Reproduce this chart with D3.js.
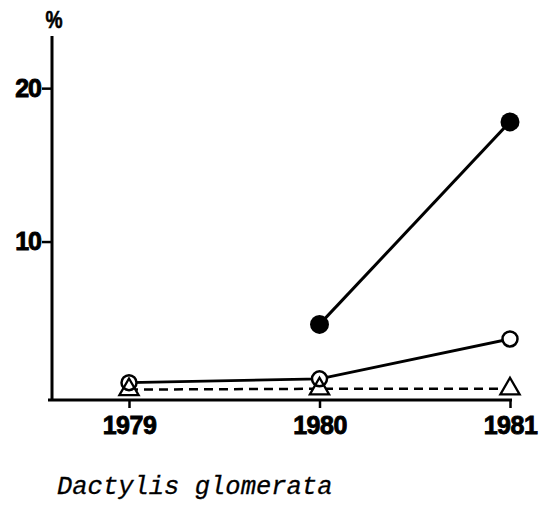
<!DOCTYPE html>
<html><head><meta charset="utf-8">
<script src="https://cdn.jsdelivr.net/npm/d3@7"></script>
<style>body{margin:0;background:#fff}svg{display:block}</style>
</head><body>
<script>
const years = [1979, 1980, 1981];
const filledYears = [1980, 1981];
const filledValues = [4.6, 17.8];
const openYears = [1979, 1980, 1981];
const openValues = [0.8, 1.05, 3.65];
const triYears = [1979, 1980, 1981];
const triValues = [0.35, 0.4, 0.4];
const yTicks = [10, 20];
const yUnit = "%";
const caption = "Dactylis glomerata";

const W = 539, H = 507;
const svg = d3.select("body").append("svg").attr("width", W).attr("height", H);

const x = d3.scalePoint().domain(years).range([129, 510]);
const y = d3.scaleLinear().domain([-0.33, 23.4]).range([400, 36]);

const FONT = "Liberation Sans, Arial, sans-serif";

// axes
const yAxis = d3.axisLeft(y).tickValues(yTicks).tickSize(10).tickSizeOuter(0).tickPadding(1).tickFormat(d3.format("d"));
const gy = svg.append("g").attr("transform", "translate(52,0)").call(yAxis);
gy.select(".domain").attr("stroke", "#000").attr("stroke-width", 3)
  .attr("d", `M0,${y.range()[1]}V${y.range()[0]}`);
gy.selectAll(".tick line").attr("stroke", "#000").attr("stroke-width", 2.5);
gy.selectAll(".tick text").attr("font-family", FONT)
  .attr("font-weight", "bold").attr("font-size", 25).attr("fill", "#000")
  .attr("stroke", "#000").attr("stroke-width", 0.9).attr("letter-spacing", -1);

const xAxis = d3.axisBottom(x).tickSize(8).tickSizeOuter(0).tickPadding(8).tickFormat(d3.format("d"));
const gx = svg.append("g").attr("transform", "translate(0,400)").call(xAxis);
gx.select(".domain").attr("stroke", "#000").attr("stroke-width", 3).attr("d", "M48,0H512");
gx.selectAll(".tick line").attr("stroke", "#000").attr("stroke-width", 2.5);
gx.selectAll(".tick text").attr("font-family", FONT)
  .attr("font-weight", "bold").attr("font-size", 25).attr("fill", "#000")
  .attr("stroke", "#000").attr("stroke-width", 0.9).attr("letter-spacing", -0.5);

svg.append("text").attr("transform", "translate(54,28) scale(0.8,1)").attr("text-anchor", "middle")
  .attr("font-family", FONT).attr("font-weight", "bold")
  .attr("font-size", 24).attr("stroke", "#000").attr("stroke-width", 0.6).text(yUnit);

const line = d3.line().x(d => x(d[0])).y(d => y(d[1]));

const triData = d3.zip(triYears, triValues);
const openData = d3.zip(openYears, openValues);
const filledData = d3.zip(filledYears, filledValues);

// lines
svg.append("path").datum(triData).attr("d", line).attr("fill", "none")
  .attr("stroke", "#000").attr("stroke-width", 2.5).attr("stroke-dasharray", "9,6");
svg.append("path").datum(openData).attr("d", line).attr("fill", "none")
  .attr("stroke", "#000").attr("stroke-width", 2.8);
svg.append("path").datum(filledData).attr("d", line).attr("fill", "none")
  .attr("stroke", "#000").attr("stroke-width", 3);

const tri = d3.symbol().type(d3.symbolTriangle).size(160);

// white fills of open symbols
svg.selectAll(".ocf").data(openData).enter().append("circle")
  .attr("cx", d => x(d[0])).attr("cy", d => y(d[1])).attr("r", 7.5).attr("fill", "#fff");
svg.selectAll(".trif").data(triData).enter().append("path")
  .attr("transform", d => `translate(${x(d[0])},${y(d[1])})`).attr("d", tri).attr("fill", "#fff");

// outlines
svg.selectAll(".oc").data(openData).enter().append("circle")
  .attr("cx", d => x(d[0])).attr("cy", d => y(d[1])).attr("r", 7.5)
  .attr("fill", "none").attr("stroke", "#000").attr("stroke-width", 2.5);
svg.selectAll(".tri").data(triData).enter().append("path")
  .attr("transform", d => `translate(${x(d[0])},${y(d[1])})`)
  .attr("d", tri).attr("fill", "none").attr("stroke", "#000").attr("stroke-width", 2.3);

svg.selectAll(".fc").data(filledData).enter().append("circle")
  .attr("cx", d => x(d[0])).attr("cy", d => y(d[1])).attr("r", 9.5)
  .attr("fill", "#000");

svg.append("text").attr("x", 57).attr("y", 494)
  .attr("font-family", "Liberation Mono, Courier New, monospace").attr("font-style", "italic")
  .attr("font-size", 25.5).attr("fill", "#000").attr("stroke", "#000").attr("stroke-width", 0.3)
  .text(caption);
</script>
</body></html>
